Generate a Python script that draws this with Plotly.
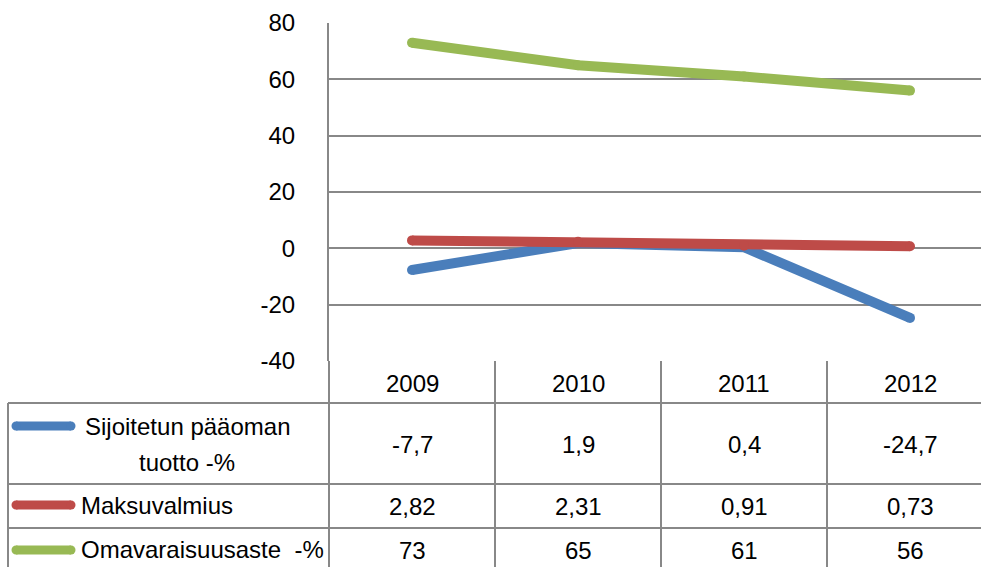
import plotly.graph_objects as go

years = ["2009", "2010", "2011", "2012"]
series_names = ["Sijoitetun pääoman<br>tuotto -%", "Maksuvalmius", "Omavaraisuusaste  -%"]
sijoitetun = [-7.7, 1.9, 0.4, -24.7]
maksuvalmius = [2.82, 2.31, 0.91, 0.73]
omavaraisuus = [73, 65, 61, 56]
colors = ["#4A7EBB", "#BE4B48", "#98B954"]
y_ticks = [-40, -20, 0, 20, 40, 60, 80]

W, H = 981, 567
PLOT_L, PLOT_T, PLOT_B = 329, 23, 361
L, T, B = PLOT_L, PLOT_T, H - PLOT_B
PW = W - L
PH = PLOT_B - PLOT_T

def px(x):
    return (x - PLOT_L) / PW

def py(y):
    return (PLOT_B - y) / PH

def fmt(v):
    return str(v).replace(".", ",")

GRAY = "#888888"
FONT = "Liberation Sans"
FS = 24

fig = go.Figure()
xs = list(range(len(years)))
for name, vals, c in zip(series_names, [sijoitetun, maksuvalmius, omavaraisuus], colors):
    fig.add_trace(go.Scatter(x=xs, y=vals, mode="lines+markers", name=name,
                             line=dict(color=c, width=10),
                             marker=dict(color=c, size=10, line=dict(width=0)),
                             showlegend=False, hoverinfo="skip"))

cat_w = 166.0
x_right = -0.5 + PW / cat_w

shapes = []
line_style = dict(color=GRAY, width=2)
for yy in [403, 484, 528]:
    shapes.append(dict(type="line", xref="paper", yref="paper", x0=px(8), x1=1.0,
                       y0=py(yy), y1=py(yy), line=line_style))
shapes.append(dict(type="line", xref="paper", yref="paper", x0=px(8), x1=px(8),
                   y0=py(403), y1=py(570), line=line_style))
shapes.append(dict(type="line", xref="paper", yref="paper", x0=0, x1=0,
                   y0=0, y1=py(570), line=line_style))
for i in range(len(years) - 1):
    shapes.append(dict(type="line", xref="x", yref="paper", x0=i + 0.5, x1=i + 0.5,
                       y0=0, y1=py(570), line=line_style))
key_rows = [426, 505, 550]
for yy, c in zip(key_rows, colors):
    shapes.append(dict(type="line", xref="paper", yref="paper", x0=px(16), x1=px(71),
                       y0=py(yy), y1=py(yy), line=dict(color=c, width=9)))
    for xe in (16, 71):
        shapes.append(dict(type="circle", xref="paper", yref="paper",
                           x0=px(xe - 4.5), x1=px(xe + 4.5),
                           y0=py(yy + 4.5), y1=py(yy - 4.5),
                           fillcolor=c, line=dict(width=0)))

annotations = []
font = dict(family=FONT, size=FS, color="black")
for i, yr in enumerate(years):
    annotations.append(dict(x=i, y=py(383), xref="x", yref="paper", text=yr,
                            showarrow=False, xanchor="center", yanchor="middle", font=font))
row_centers = [444, 506, 550]
for rc, name, vals in zip(row_centers, series_names,
                          [sijoitetun, maksuvalmius, omavaraisuus]):
    parts = name.split("<br>")
    if len(parts) > 1:
        for j, part in enumerate(parts):
            annotations.append(dict(x=px(187), y=py(427 + 35 * j), xref="paper", yref="paper",
                                    text=part, showarrow=False, xanchor="center",
                                    yanchor="middle", font=font))
    else:
        annotations.append(dict(x=px(79), y=py(rc - 1), xref="paper", yref="paper", text=name,
                                showarrow=False, xanchor="left", yanchor="middle", font=font))
    for i, v in enumerate(vals):
        annotations.append(dict(x=i, y=py(rc), xref="x", yref="paper", text=fmt(v),
                                showarrow=False, xanchor="center", yanchor="middle", font=font))

fig.update_layout(
    width=W, height=H,
    margin=dict(l=L, r=0, t=T, b=B, pad=0),
    paper_bgcolor="white", plot_bgcolor="white",
    xaxis=dict(range=[-0.5, x_right], showticklabels=False, showgrid=False,
               zeroline=False, showline=False, ticks=""),
    yaxis=dict(range=[-40, 80], tickvals=y_ticks,
               ticktext=[str(v) for v in y_ticks],
               showgrid=True, gridcolor=GRAY, gridwidth=2,
               zeroline=False, showline=True, linecolor=GRAY, linewidth=2,
               ticks="", ticklabelstandoff=27, tickfont=font),
    shapes=shapes, annotations=annotations,
)

fig.write_html("out.html",
               config={"displayModeBar": False},
               post_script="document.body.style.margin='0';"
                           "document.body.style.overflow='hidden';"
                           "document.documentElement.style.overflow='hidden';")
